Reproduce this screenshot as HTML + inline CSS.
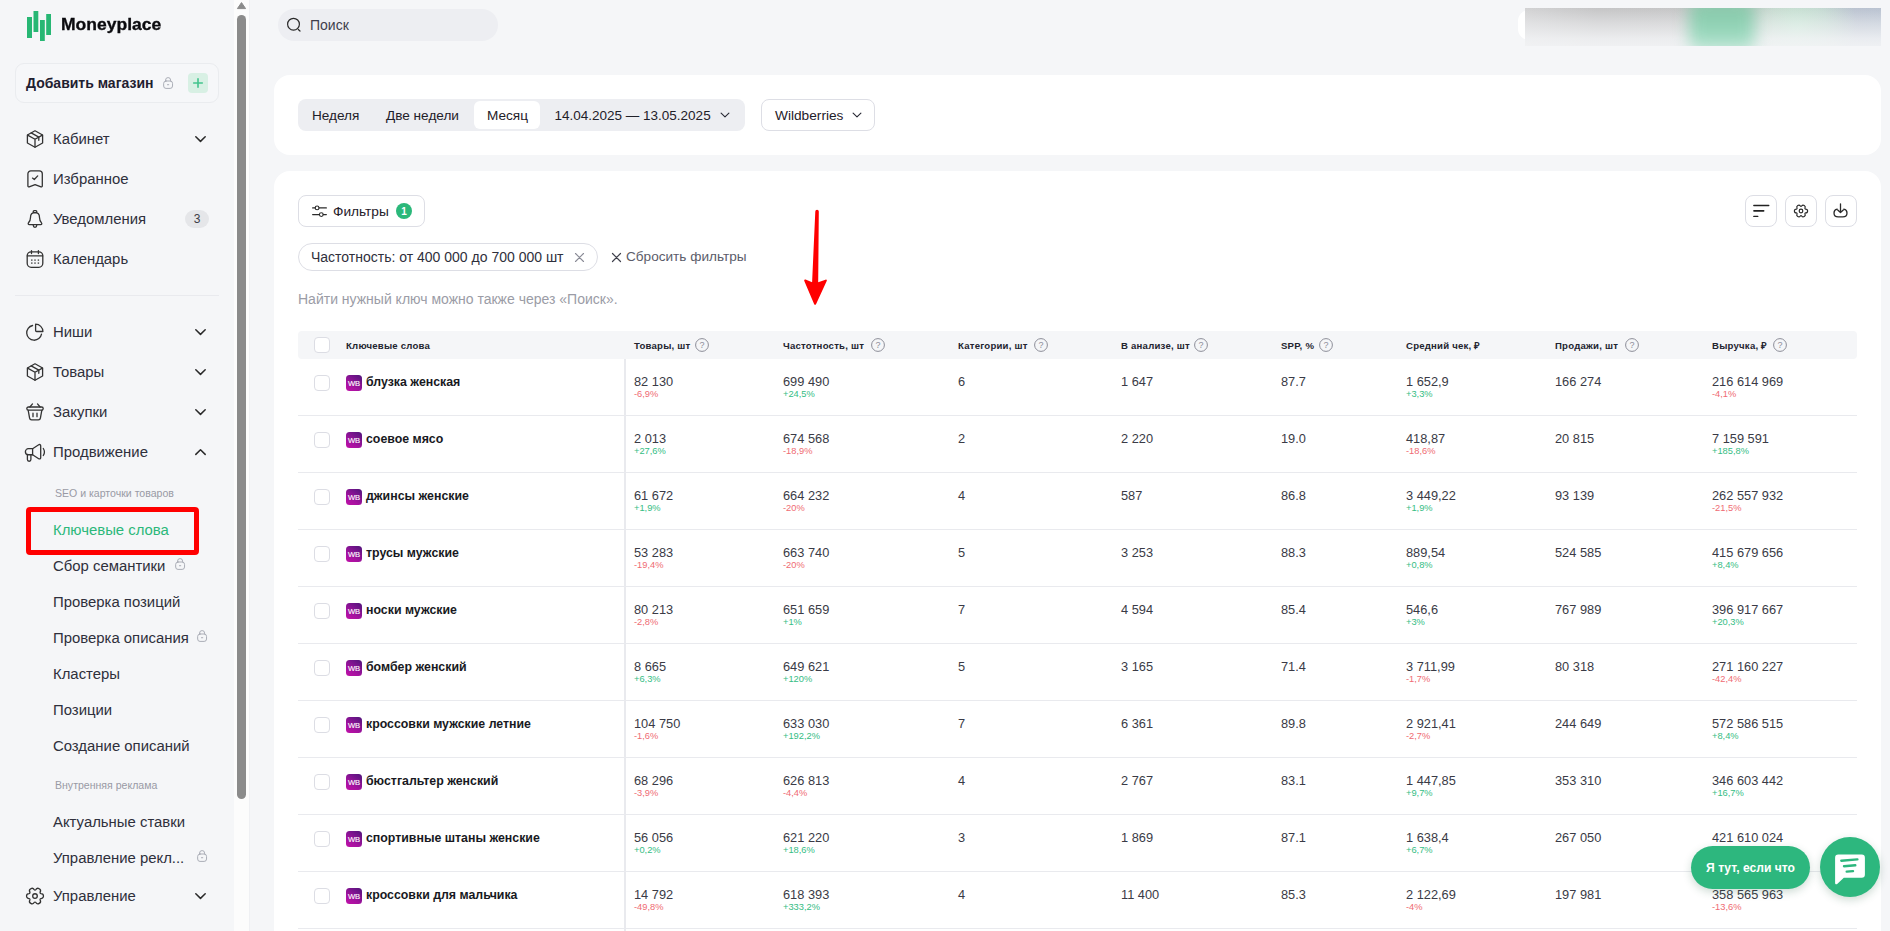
<!DOCTYPE html>
<html lang="ru">
<head>
<meta charset="utf-8">
<title>Moneyplace — Ключевые слова</title>
<style>
*{box-sizing:border-box;margin:0;padding:0}
html,body{width:1890px;height:931px;overflow:hidden}
body{position:relative;background:#f5f6f8;font-family:"Liberation Sans",sans-serif;color:#23242f;-webkit-font-smoothing:antialiased}
svg{display:block;overflow:visible}
i{font-style:normal;display:block}
.abs{position:absolute}

/* ---------- sidebar ---------- */
.sidebar{position:absolute;left:0;top:0;width:234px;height:931px;background:#f5f6f8}
.logo{position:absolute;left:27px;top:11px}
.brand{position:absolute;left:60.5px;top:13px;font-size:16px;line-height:24px;font-weight:700;color:#0b0b0f;-webkit-text-stroke:.3px #0b0b0f;white-space:nowrap;transform:scaleX(1.095);transform-origin:0 50%}
.store{position:absolute;left:15px;top:63px;width:204px;height:40px;border:1px solid #eaecef;border-radius:9px;background:#f6f7f9}
.store b{position:absolute;left:10px;top:0;line-height:38px;font-size:14px;font-weight:700;color:#1f2030;white-space:nowrap}
.store .lock{position:absolute;left:147px;top:12.7px}
.lock{width:10.2px;height:12.1px}
.store .plus{position:absolute;left:172px;top:9px;width:20px;height:20px;border-radius:4px;background:#d8f0e4}
.nav{position:absolute;left:0;width:234px;height:40px}
.nav .ic{position:absolute;left:26px;top:11px;width:18px;height:18px;fill:none;stroke:#333;stroke-width:1.3;stroke-linecap:round;stroke-linejoin:round}
.nav .tx{position:absolute;left:53px;top:0;line-height:40px;font-size:14.9px;color:#2f303c;white-space:nowrap}
.nav .chev{position:absolute;left:195.1px;top:16.9px;fill:none;stroke:#2a2a2a;stroke-width:1.5;stroke-linecap:round;stroke-linejoin:round}
.nav .badge{position:absolute;left:185px;top:11px;width:24px;height:18px;border-radius:9px;background:#e5e6e9;font-size:12px;line-height:18px;text-align:center;color:#3c3d47}
.sep{position:absolute;left:15px;top:295px;width:204px;height:1px;background:#e9eaee}
.sub{position:absolute;left:53px;height:36px;line-height:36px;font-size:14.9px;color:#2f303c;white-space:nowrap}
.sub.on{color:#2bb87a}
.sub .lock{position:absolute;top:10px}
.grp{position:absolute;left:55px;font-size:10.55px;line-height:14px;color:#999aa5;white-space:nowrap}
.mark{position:absolute;left:26.4px;top:507px;width:172.4px;height:47.6px;border:5.2px solid #ff0000;border-radius:4px}

/* ---------- scrollbar ---------- */
.sbar{position:absolute;left:234px;top:0;width:16px;height:931px;background:#fcfcfc;border-right:1px solid #eff0f3}
.sbar .thumb{position:absolute;left:3px;top:15px;width:9px;height:784px;border-radius:5px;background:#8b8b8b}
.sbar svg{position:absolute;left:3px;top:2px}

/* ---------- top bar ---------- */
.search{position:absolute;left:278px;top:9px;width:220px;height:32px;border-radius:16px;background:#edeef2}
.search svg{position:absolute;left:8px;top:8px}
.search span{position:absolute;left:32px;top:0;line-height:32px;font-size:14px;color:#3f404c}
.user{position:absolute;left:1518px;top:8px;width:363px;height:38px;overflow:hidden}
.user .u1{position:absolute;left:0;top:2px;width:40px;height:30px;border-radius:11px 0 0 11px;background:#fff}
.user .u2{position:absolute;left:7px;top:0;width:356px;height:38px;background:linear-gradient(to bottom,rgba(244,245,247,0) 0%,rgba(244,245,247,.45) 40%,rgba(244,245,247,.82) 80%,rgba(244,245,247,.9) 100%),radial-gradient(ellipse 60px 60px at 272px 20px,rgba(200,232,214,.95) 0%,rgba(200,232,214,.6) 50%,rgba(200,232,214,0) 100%),linear-gradient(to right,rgba(184,194,210,0) 74%,rgba(184,194,210,.8) 92%,rgba(184,194,210,.9) 100%),linear-gradient(to right,#d2d2d3 0%,#c5c5c6 20%,#c6c6c7 60%,#c4c8c8 100%)}
.user .u3{position:absolute;left:171px;top:-10px;width:66px;height:54px;border-radius:12px;background:linear-gradient(to bottom,#86c2a6 0%,#8bcbad 25%,#92d4b7 55%,#a8dec7 80%,#c9ecdd 100%);filter:blur(7.5px)}

/* ---------- cards ---------- */
.card{position:absolute;left:274px;width:1607px;background:#fff;border-radius:16px}
.c1{top:75px;height:80px}
.c2{top:171px;height:800px}
.seg{position:absolute;left:298px;top:99px;width:447px;height:32px;border-radius:8px;background:#edeef2}
.seg span{position:absolute;top:1px;line-height:32px;font-size:13.6px;color:#1f2029;white-space:nowrap}
.seg .act{position:absolute;left:176px;top:2px;width:66px;height:28px;border-radius:6px;background:#fff}
.btn{position:absolute;height:32px;border:1px solid #dddee5;border-radius:8px;background:#fff}
.btn span{position:absolute;top:1px;line-height:30px;font-size:13.7px;color:#1f2029;white-space:nowrap}
.cnt{position:absolute;left:97px;top:7px;width:16px;height:16px;border-radius:8px;background:#2bb87a;color:#fff;font-size:10px;font-weight:700;line-height:17px;text-align:center}
.chip{position:absolute;left:298px;top:243px;width:300px;height:28px;border:1px solid #dddee5;border-radius:14px;background:#fff}
.chip span{position:absolute;left:12px;top:0;line-height:26px;font-size:14px;color:#2f303c;white-space:nowrap}
.reset{position:absolute;left:626px;top:243px;line-height:28px;font-size:13.6px;color:#5b5c69;white-space:nowrap}
.hint{position:absolute;left:298px;top:289px;line-height:20px;font-size:14px;color:#9b9ca6;white-space:nowrap}

/* ---------- table ---------- */
.thead{position:absolute;left:298px;top:331px;width:1559px;height:28px;border-radius:4px;background:#f5f6f8}
.th{position:absolute;top:332px;line-height:28px;font-size:9.6px;letter-spacing:.22px;font-weight:700;color:#23242f;white-space:nowrap}
.q{position:absolute;top:338px;width:14px;height:14px}
.q svg{position:absolute;left:0;top:0}
.q b{position:absolute;left:0;top:0;width:14px;line-height:14.5px;text-align:center;font-size:9px;font-weight:400;color:#8d8e99}
.cb{position:absolute;left:16px;top:16px;width:16px;height:16px;border:1px solid #dcdde4;border-radius:4px;background:#fff}
.vline{position:absolute;left:624px;top:359px;width:2px;height:572px;background:#e9eaee}
.tr{position:absolute;left:298px;width:1559px;height:57px;border-bottom:1px solid #e9eaee}
.tr span{position:absolute;white-space:nowrap}
.tr .wb{left:48px;top:16px;width:16px;height:16px;border-radius:3.5px;background:linear-gradient(35deg,#c010a8 0%,#a5129f 35%,#6f1489 75%,#4f1478 100%);color:#fff;font-size:7.6px;font-weight:400;-webkit-text-stroke:.12px #fff;line-height:17px;text-align:center;letter-spacing:-.1px}
.tr .kw{left:68px;top:14px;line-height:18px;font-size:12.35px;font-weight:700;color:#181922}
.tr .v{top:14px;line-height:18px;font-size:12.8px;color:#3a3b46;margin-left:-298px}
.tr .d{top:29px;line-height:12px;font-size:9.3px;margin-left:-298px}
.up{color:#35bd84}
.dn{color:#ef6b73}

/* ---------- chat ---------- */
.pill{position:absolute;left:1691px;top:846px;width:119px;height:43px;border-radius:21.5px;background:#2db77e;color:#fff;font-size:12.1px;font-weight:700;line-height:45px;text-align:center;box-shadow:0 3px 8px rgba(30,90,60,.22)}
.fab{position:absolute;left:1820px;top:837px;width:60px;height:60px;border-radius:30px;background:#2db77e;box-shadow:0 3px 8px rgba(30,90,60,.22)}
.fab svg{position:absolute;left:14.4px;top:17px}
.arrow{position:absolute;left:800px;top:205px}
</style>
</head>
<body>

<!-- main cards -->
<div class="search">
<svg width="16" height="16" viewBox="0 0 16 16" fill="none" stroke="#2a2a2a" stroke-width="1.2" stroke-linecap="round"><circle cx="7.5" cy="7.2" r="5.9"/><path d="M12.3 12.5l1.7 1.5"/></svg>
<span>Поиск</span>
</div>
<div class="user"><i class="u1"></i><i class="u2"></i><i class="u3"></i></div>

<section class="card c1"></section>
<div class="seg">
<i class="act"></i>
<span style="left:14px">Неделя</span>
<span style="left:88px">Две недели</span>
<span style="left:189px">Месяц</span>
<span style="left:256.5px;font-size:13.5px">14.04.2025 — 13.05.2025</span>
<svg style="position:absolute;left:422px;top:13px" width="10" height="7" viewBox="0 0 10 7" fill="none" stroke="#2a2b36" stroke-width="1.15" stroke-linecap="round" stroke-linejoin="round"><path d="M1.1 1.2 5 4.9 8.9 1.2"/></svg>
</div>
<div class="btn" style="left:761px;top:99px;width:114px"><span style="left:13px">Wildberries</span><svg style="position:absolute;left:89.5px;top:12px" width="10" height="7" viewBox="0 0 10 7" fill="none" stroke="#2a2b36" stroke-width="1.15" stroke-linecap="round" stroke-linejoin="round"><path d="M1.1 1.2 5 4.9 8.9 1.2"/></svg></div>

<section class="card c2"></section>
<div class="btn" style="left:298px;top:195px;width:127px"><svg style="position:absolute;left:13px;top:8px" width="15" height="14" viewBox="0 0 15 14" fill="none" stroke="#2a2a2a" stroke-width="1.1" stroke-linecap="round"><path d="M.6 3.9h2.6M7 3.9h7.4M.6 10.6h6.8M11.2 10.6h3.2"/><circle cx="5.1" cy="3.9" r="1.9"/><circle cx="9.3" cy="10.6" r="1.9"/></svg><span style="left:34px">Фильтры</span><i class="cnt">1</i></div>
<div class="btn" style="left:1745px;top:195px;width:32px"><svg style="position:absolute;left:7px;top:8px" width="17" height="13" viewBox="0 0 17 13" fill="none" stroke="#222" stroke-linecap="round"><path d="M.8 1.5h15" stroke-width="1.3"/><path d="M1 6.8h9.6" stroke-width="1.7"/><path d="M.8 12.4h4" stroke-width="1.3"/></svg></div>
<div class="btn" style="left:1785px;top:195px;width:32px"><svg style="position:absolute;left:8px;top:8px" width="14" height="14" viewBox="0 0 14 14" fill="none" stroke="#2a2a2a" stroke-width="1.2" stroke-linejoin="round"><path d="M11.65 5.05A1.95 1.95 0 0 1 11.65 8.95A0.8 0.8 0 0 0 11.01 10.06A1.95 1.95 0 0 1 7.64 12.00A0.8 0.8 0 0 0 6.36 12.00A1.95 1.95 0 0 1 2.99 10.06A0.8 0.8 0 0 0 2.35 8.95A1.95 1.95 0 0 1 2.35 5.05A0.8 0.8 0 0 0 2.99 3.94A1.95 1.95 0 0 1 6.36 2.00A0.8 0.8 0 0 0 7.64 2.00A1.95 1.95 0 0 1 11.01 3.94A0.8 0.8 0 0 0 11.65 5.05Z"/><circle cx="7" cy="7" r="1.8"/></svg></div>
<div class="btn" style="left:1825px;top:195px;width:32px"><svg style="position:absolute;left:7.4px;top:7.4px" width="15" height="15" viewBox="0 0 15 15" fill="none" stroke="#2a2a2a" stroke-width="1.3" stroke-linecap="round" stroke-linejoin="round"><path d="M7.5 .8v8.6M4.7 7l2.8 2.6L10.3 7"/><path d="M4.2 6.1C2.3 6.5 1 7.9 1 9.9c0 2.4 1.7 3.9 4.2 3.9h4.6c2.5 0 4.2-1.5 4.2-3.9 0-2-1.3-3.4-3.2-3.8"/></svg></div>
<div class="chip"><span>Частотность: от 400 000 до 700 000 шт</span><svg style="position:absolute;left:275.5px;top:8.5px" width="9" height="9" viewBox="0 0 9 9" fill="none" stroke="#8a8b96" stroke-width="1.1" stroke-linecap="round"><path d="M.5 .5l8 8M8.5 .5l-8 8"/></svg></div>
<svg style="position:absolute;left:611.5px;top:252.5px" width="9" height="9" viewBox="0 0 9 9" fill="none" stroke="#3f404c" stroke-width="1.2" stroke-linecap="round"><path d="M.5 .5l8 8M8.5 .5l-8 8"/></svg>
<div class="reset">Сбросить фильтры</div>
<div class="hint">Найти нужный ключ можно также через «Поиск».</div>
<svg class="arrow" width="30" height="100" viewBox="0 0 30 100"><path d="M15.3 6.6a1.75 1.75 0 0 1 3.5 0L18.2 77.3 25.5 74.7c1-.4 1.7 .4 1.2 1.4L16 99.2c-.4 .8-1.4 .8-1.8 0L4.3 76c-.4-1 .3-1.8 1.3-1.4l6.5 2.7Z" fill="#ff0000"/></svg>

<div class="thead"><span class="cb" style="top:6px"></span></div>
<span class="th" style="left:346px">Ключевые слова</span>
<span class="th" style="left:634px">Товары, шт</span><span class="q" style="left:695px"><svg width="14" height="14" viewBox="0 0 14 14" fill="none" stroke="#8d8e99" stroke-width="1"><circle cx="7" cy="7" r="6.4"/></svg><b>?</b></span>
<span class="th" style="left:783px">Частотность, шт</span><span class="q" style="left:871px"><svg width="14" height="14" viewBox="0 0 14 14" fill="none" stroke="#8d8e99" stroke-width="1"><circle cx="7" cy="7" r="6.4"/></svg><b>?</b></span>
<span class="th" style="left:958px">Категории, шт</span><span class="q" style="left:1034px"><svg width="14" height="14" viewBox="0 0 14 14" fill="none" stroke="#8d8e99" stroke-width="1"><circle cx="7" cy="7" r="6.4"/></svg><b>?</b></span>
<span class="th" style="left:1121px">В анализе, шт</span><span class="q" style="left:1194px"><svg width="14" height="14" viewBox="0 0 14 14" fill="none" stroke="#8d8e99" stroke-width="1"><circle cx="7" cy="7" r="6.4"/></svg><b>?</b></span>
<span class="th" style="left:1281px">SPP, %</span><span class="q" style="left:1319px"><svg width="14" height="14" viewBox="0 0 14 14" fill="none" stroke="#8d8e99" stroke-width="1"><circle cx="7" cy="7" r="6.4"/></svg><b>?</b></span>
<span class="th" style="left:1406px">Средний чек, ₽</span>
<span class="th" style="left:1555px">Продажи, шт</span><span class="q" style="left:1625px"><svg width="14" height="14" viewBox="0 0 14 14" fill="none" stroke="#8d8e99" stroke-width="1"><circle cx="7" cy="7" r="6.4"/></svg><b>?</b></span>
<span class="th" style="left:1712px">Выручка, ₽</span><span class="q" style="left:1773px"><svg width="14" height="14" viewBox="0 0 14 14" fill="none" stroke="#8d8e99" stroke-width="1"><circle cx="7" cy="7" r="6.4"/></svg><b>?</b></span>
<div class="tr" style="top:359px">
<span class="cb"></span><span class="wb">WB</span><span class="kw">блузка женская</span>
<span class="v" style="left:634px">82 130</span><span class="d dn" style="left:634px">-6,9%</span><span class="v" style="left:783px">699 490</span><span class="d up" style="left:783px">+24,5%</span><span class="v" style="left:958px">6</span><span class="v" style="left:1121px">1 647</span><span class="v" style="left:1281px">87.7</span><span class="v" style="left:1406px">1 652,9</span><span class="d up" style="left:1406px">+3,3%</span><span class="v" style="left:1555px">166 274</span><span class="v" style="left:1712px">216 614 969</span><span class="d dn" style="left:1712px">-4,1%</span>
</div>
<div class="tr" style="top:416px">
<span class="cb"></span><span class="wb">WB</span><span class="kw">соевое мясо</span>
<span class="v" style="left:634px">2 013</span><span class="d up" style="left:634px">+27,6%</span><span class="v" style="left:783px">674 568</span><span class="d dn" style="left:783px">-18,9%</span><span class="v" style="left:958px">2</span><span class="v" style="left:1121px">2 220</span><span class="v" style="left:1281px">19.0</span><span class="v" style="left:1406px">418,87</span><span class="d dn" style="left:1406px">-18,6%</span><span class="v" style="left:1555px">20 815</span><span class="v" style="left:1712px">7 159 591</span><span class="d up" style="left:1712px">+185,8%</span>
</div>
<div class="tr" style="top:473px">
<span class="cb"></span><span class="wb">WB</span><span class="kw">джинсы женские</span>
<span class="v" style="left:634px">61 672</span><span class="d up" style="left:634px">+1,9%</span><span class="v" style="left:783px">664 232</span><span class="d dn" style="left:783px">-20%</span><span class="v" style="left:958px">4</span><span class="v" style="left:1121px">587</span><span class="v" style="left:1281px">86.8</span><span class="v" style="left:1406px">3 449,22</span><span class="d up" style="left:1406px">+1,9%</span><span class="v" style="left:1555px">93 139</span><span class="v" style="left:1712px">262 557 932</span><span class="d dn" style="left:1712px">-21,5%</span>
</div>
<div class="tr" style="top:530px">
<span class="cb"></span><span class="wb">WB</span><span class="kw">трусы мужские</span>
<span class="v" style="left:634px">53 283</span><span class="d dn" style="left:634px">-19,4%</span><span class="v" style="left:783px">663 740</span><span class="d dn" style="left:783px">-20%</span><span class="v" style="left:958px">5</span><span class="v" style="left:1121px">3 253</span><span class="v" style="left:1281px">88.3</span><span class="v" style="left:1406px">889,54</span><span class="d up" style="left:1406px">+0,8%</span><span class="v" style="left:1555px">524 585</span><span class="v" style="left:1712px">415 679 656</span><span class="d up" style="left:1712px">+8,4%</span>
</div>
<div class="tr" style="top:587px">
<span class="cb"></span><span class="wb">WB</span><span class="kw">носки мужские</span>
<span class="v" style="left:634px">80 213</span><span class="d dn" style="left:634px">-2,8%</span><span class="v" style="left:783px">651 659</span><span class="d up" style="left:783px">+1%</span><span class="v" style="left:958px">7</span><span class="v" style="left:1121px">4 594</span><span class="v" style="left:1281px">85.4</span><span class="v" style="left:1406px">546,6</span><span class="d up" style="left:1406px">+3%</span><span class="v" style="left:1555px">767 989</span><span class="v" style="left:1712px">396 917 667</span><span class="d up" style="left:1712px">+20,3%</span>
</div>
<div class="tr" style="top:644px">
<span class="cb"></span><span class="wb">WB</span><span class="kw">бомбер женский</span>
<span class="v" style="left:634px">8 665</span><span class="d up" style="left:634px">+6,3%</span><span class="v" style="left:783px">649 621</span><span class="d up" style="left:783px">+120%</span><span class="v" style="left:958px">5</span><span class="v" style="left:1121px">3 165</span><span class="v" style="left:1281px">71.4</span><span class="v" style="left:1406px">3 711,99</span><span class="d dn" style="left:1406px">-1,7%</span><span class="v" style="left:1555px">80 318</span><span class="v" style="left:1712px">271 160 227</span><span class="d dn" style="left:1712px">-42,4%</span>
</div>
<div class="tr" style="top:701px">
<span class="cb"></span><span class="wb">WB</span><span class="kw">кроссовки мужские летние</span>
<span class="v" style="left:634px">104 750</span><span class="d dn" style="left:634px">-1,6%</span><span class="v" style="left:783px">633 030</span><span class="d up" style="left:783px">+192,2%</span><span class="v" style="left:958px">7</span><span class="v" style="left:1121px">6 361</span><span class="v" style="left:1281px">89.8</span><span class="v" style="left:1406px">2 921,41</span><span class="d dn" style="left:1406px">-2,7%</span><span class="v" style="left:1555px">244 649</span><span class="v" style="left:1712px">572 586 515</span><span class="d up" style="left:1712px">+8,4%</span>
</div>
<div class="tr" style="top:758px">
<span class="cb"></span><span class="wb">WB</span><span class="kw">бюстгальтер женский</span>
<span class="v" style="left:634px">68 296</span><span class="d dn" style="left:634px">-3,9%</span><span class="v" style="left:783px">626 813</span><span class="d dn" style="left:783px">-4,4%</span><span class="v" style="left:958px">4</span><span class="v" style="left:1121px">2 767</span><span class="v" style="left:1281px">83.1</span><span class="v" style="left:1406px">1 447,85</span><span class="d up" style="left:1406px">+9,7%</span><span class="v" style="left:1555px">353 310</span><span class="v" style="left:1712px">346 603 442</span><span class="d up" style="left:1712px">+16,7%</span>
</div>
<div class="tr" style="top:815px">
<span class="cb"></span><span class="wb">WB</span><span class="kw">спортивные штаны женские</span>
<span class="v" style="left:634px">56 056</span><span class="d up" style="left:634px">+0,2%</span><span class="v" style="left:783px">621 220</span><span class="d up" style="left:783px">+18,6%</span><span class="v" style="left:958px">3</span><span class="v" style="left:1121px">1 869</span><span class="v" style="left:1281px">87.1</span><span class="v" style="left:1406px">1 638,4</span><span class="d up" style="left:1406px">+6,7%</span><span class="v" style="left:1555px">267 050</span><span class="v" style="left:1712px">421 610 024</span>
</div>
<div class="tr" style="top:872px">
<span class="cb"></span><span class="wb">WB</span><span class="kw">кроссовки для мальчика</span>
<span class="v" style="left:634px">14 792</span><span class="d dn" style="left:634px">-49,8%</span><span class="v" style="left:783px">618 393</span><span class="d up" style="left:783px">+333,2%</span><span class="v" style="left:958px">4</span><span class="v" style="left:1121px">11 400</span><span class="v" style="left:1281px">85.3</span><span class="v" style="left:1406px">2 122,69</span><span class="d dn" style="left:1406px">-4%</span><span class="v" style="left:1555px">197 981</span><span class="v" style="left:1712px">358 565 963</span><span class="d dn" style="left:1712px">-13,6%</span>
</div>
<div class="vline"></div>

<div class="pill">Я тут, если что</div>
<div class="fab"><svg width="32" height="32" viewBox="0 0 32 32"><path d="M4.3 .6h23.4a3.2 3.2 0 0 1 3.2 3.2v16.8a3.2 3.2 0 0 1-3.2 3.2H9.8L3.2 29.9c-1 .8-2.1 .2-2.1-1V3.8A3.2 3.2 0 0 1 4.3 .6Z" fill="#fff"/><g stroke="#2db67d" stroke-width="2.4" stroke-linecap="round" fill="none"><path d="M7.3 6.7 23.4 5.4M10 12.2 21.3 11.3M12.7 17.6 19 17.1"/></g></svg></div>

<!-- sidebar -->
<aside class="sidebar">
<svg class="logo" width="25" height="30" viewBox="0 0 25 30"><g fill="#27b774"><rect x="0" y="6" width="5" height="21"/><rect x="6.5" y="0" width="4.8" height="21"/><rect x="13" y="9" width="4.8" height="21"/><rect x="19.2" y="3" width="4.8" height="21"/></g></svg>
<div class="brand">Moneyplace</div>
<div class="store"><b>Добавить магазин</b><svg class="lock"  width="11" height="13" viewBox="0 0 11 13" fill="none" stroke="#a4a7b1" stroke-width="1" stroke-linecap="round"><rect x=".7" y="4.3" width="9.6" height="8" rx="2.6"/><path d="M2.8 4.3V3.3a2.7 2.7 0 0 1 5.4 0v1M4.8 8.3h1.4"/></svg><i class="plus"><svg width="20" height="20" viewBox="0 0 20 20" fill="none" stroke="#43c48d" stroke-width="1.6" stroke-linecap="round"><path d="M5.7 10h8.6M10 5.7v8.6"/></svg></i></div>
<div class="nav" style="top:119px"><svg class="ic" viewBox="0 0 18 18"><path d="M9 .8 16.6 5v8L9 17.2 1.4 13V5Z"/><path d="M1.6 5.1 9 9.2l7.4-4.1M9 9.2v8"/><path d="M5.2 2.9l7.6 4.2v3.2"/></svg><span class="tx">Кабинет</span><svg class="chev" width="11" height="7" viewBox="0 0 11 7"><path d="M.8 .8 5.5 5.4 10.2 .8"/></svg></div>
<div class="nav" style="top:159px"><svg class="ic" viewBox="0 0 18 18"><path d="M1.9 3.8a3 3 0 0 1 3-3h8.4a3 3 0 0 1 3 3v12.2a.9 .9 0 0 1-1.3 .8L9.1 14.6l-5.9 2.2a.9 .9 0 0 1-1.3-.8Z"/><path d="M6.5 8.1l1.8 1.4 3.4-3.6"/></svg><span class="tx">Избранное</span></div>
<div class="nav" style="top:199px"><svg class="ic" viewBox="0 0 18 18"><path d="M9 2.7c-2.8 0-4.5 2.1-4.5 4.7 0 2.4-.7 3.9-2 5.4-.6 .7-.3 1.9 .8 1.9h11.4c1.1 0 1.4-1.2 .8-1.9-1.3-1.5-2-3-2-5.4 0-2.6-1.7-4.7-4.5-4.7z"/><rect x="7.2" y=".7" width="3.6" height="2" rx="1"/><path d="M7.3 15.1v.5a1.7 1.7 0 0 0 3.4 0v-.5"/></svg><span class="tx">Уведомления</span><span class="badge">3</span></div>
<div class="nav" style="top:239px"><svg class="ic" viewBox="0 0 18 18"><rect x="1.2" y="1.8" width="15.6" height="15.5" rx="4"/><path d="M5.5 .6v3M12.4 .6v3M1.4 5.9h15.2"/><g fill="#444" stroke="none"><rect x="5.1" y="9.4" width="1.4" height="1.4"/><rect x="8.3" y="9.4" width="1.4" height="1.4"/><rect x="11.7" y="9.4" width="1.4" height="1.4"/><rect x="5.1" y="12.4" width="1.4" height="1.4"/><rect x="8.3" y="12.4" width="1.4" height="1.4"/><rect x="11.7" y="12.4" width="1.4" height="1.4"/></g></svg><span class="tx">Календарь</span></div>
<div class="sep"></div>
<div class="nav" style="top:312px"><svg class="ic" viewBox="0 0 18 18"><path d="M6.6 2.5A7.45 7.45 0 1 0 15.5 11.1"/><path d="M9.6 1.2A7.3 7.3 0 0 1 16.9 8.5H10.6a1 1 0 0 1-1-1Z"/></svg><span class="tx">Ниши</span><svg class="chev" width="11" height="7" viewBox="0 0 11 7"><path d="M.8 .8 5.5 5.4 10.2 .8"/></svg></div>
<div class="nav" style="top:352px"><svg class="ic" viewBox="0 0 18 18"><path d="M9 .8 16.6 5v8L9 17.2 1.4 13V5Z"/><path d="M1.6 5.1 9 9.2l7.4-4.1M9 9.2v8"/><path d="M5.2 2.9l7.6 4.2v3.2"/></svg><span class="tx">Товары</span><svg class="chev" width="11" height="7" viewBox="0 0 11 7"><path d="M.8 .8 5.5 5.4 10.2 .8"/></svg></div>
<div class="nav" style="top:392px"><svg class="ic" viewBox="0 0 18 18"><path d="M6.5 .9 3.9 4M11.5 .9l2.6 3.1"/><rect x=".8" y="4" width="16.4" height="3.2" rx="1.6"/><path d="M2.2 7.3l1.4 7.9a2 2 0 0 0 2 1.7h6.8a2 2 0 0 0 2-1.7l1.4-7.9"/><path d="M7 10.2v3.5M11 10.2v3.5"/></svg><span class="tx">Закупки</span><svg class="chev" width="11" height="7" viewBox="0 0 11 7"><path d="M.8 .8 5.5 5.4 10.2 .8"/></svg></div>
<div class="nav" style="top:432px"><svg class="ic" style="left:23.7px;top:11px;width:21px;height:19px" viewBox="0 0 21 19"><path d="M8.6 5.7H4.4a3 3 0 0 0 0 6.05H8.6Z"/><path d="M8.6 5.7 14.7 1.8c.9-.6 2-.1 2 1v11.9c0 1.1-1.1 1.6-2 1L8.6 11.75"/><path d="M3.4 11.9v4.6a1.75 1.75 0 0 0 3.5 0v-4.6"/><path d="M19.3 5.5a6.4 6.4 0 0 1 0 7"/></svg><span class="tx">Продвижение</span><svg class="chev" width="11" height="7" viewBox="0 0 11 7"><path d="M.8 5.4 5.5 .8 10.2 5.4"/></svg></div>
<div class="grp" style="top:486px">SEO и карточки товаров</div>
<div class="sub on" style="top:512px">Ключевые слова</div>
<div class="sub" style="top:548px">Сбор семантики<svg class="lock" style="left:122px" width="11" height="13" viewBox="0 0 11 13" fill="none" stroke="#a4a7b1" stroke-width="1" stroke-linecap="round"><rect x=".7" y="4.3" width="9.6" height="8" rx="2.6"/><path d="M2.8 4.3V3.3a2.7 2.7 0 0 1 5.4 0v1M4.8 8.3h1.4"/></svg></div>
<div class="sub" style="top:584px">Проверка позиций</div>
<div class="sub" style="top:620px">Проверка описания<svg class="lock" style="left:144px" width="11" height="13" viewBox="0 0 11 13" fill="none" stroke="#a4a7b1" stroke-width="1" stroke-linecap="round"><rect x=".7" y="4.3" width="9.6" height="8" rx="2.6"/><path d="M2.8 4.3V3.3a2.7 2.7 0 0 1 5.4 0v1M4.8 8.3h1.4"/></svg></div>
<div class="sub" style="top:656px">Кластеры</div>
<div class="sub" style="top:692px">Позиции</div>
<div class="sub" style="top:728px">Создание описаний</div>
<div class="grp" style="top:778px">Внутренняя реклама</div>
<div class="sub" style="top:804px">Актуальные ставки</div>
<div class="sub" style="top:840px">Управление рекл...<svg class="lock" style="left:144px" width="11" height="13" viewBox="0 0 11 13" fill="none" stroke="#a4a7b1" stroke-width="1" stroke-linecap="round"><rect x=".7" y="4.3" width="9.6" height="8" rx="2.6"/><path d="M2.8 4.3V3.3a2.7 2.7 0 0 1 5.4 0v1M4.8 8.3h1.4"/></svg></div>
<div class="nav" style="top:876px"><svg class="ic" viewBox="0 0 18 18"><path d="M14.97 6.55A2.5 2.5 0 0 1 14.97 11.55A1.0 1.0 0 0 0 14.15 12.97A2.5 2.5 0 0 1 9.82 15.47A1.0 1.0 0 0 0 8.18 15.47A2.5 2.5 0 0 1 3.85 12.97A1.0 1.0 0 0 0 3.03 11.55A2.5 2.5 0 0 1 3.03 6.55A1.0 1.0 0 0 0 3.85 5.13A2.5 2.5 0 0 1 8.18 2.63A1.0 1.0 0 0 0 9.82 2.63A2.5 2.5 0 0 1 14.15 5.13A1.0 1.0 0 0 0 14.97 6.55Z"/><circle cx="9" cy="9.05" r="2.3"/></svg><span class="tx">Управление</span><svg class="chev" width="11" height="7" viewBox="0 0 11 7"><path d="M.8 .8 5.5 5.4 10.2 .8"/></svg></div>
<div class="mark"></div>
</aside>
<div class="sbar"><svg width="9" height="8" viewBox="0 0 9 8"><path d="M4.5 0.6L8.6 6.6H0.4Z" fill="#8b8b8b" stroke="#8b8b8b" stroke-width="1" stroke-linejoin="round"/></svg><i class="thumb"></i></div>

</body>
</html>
